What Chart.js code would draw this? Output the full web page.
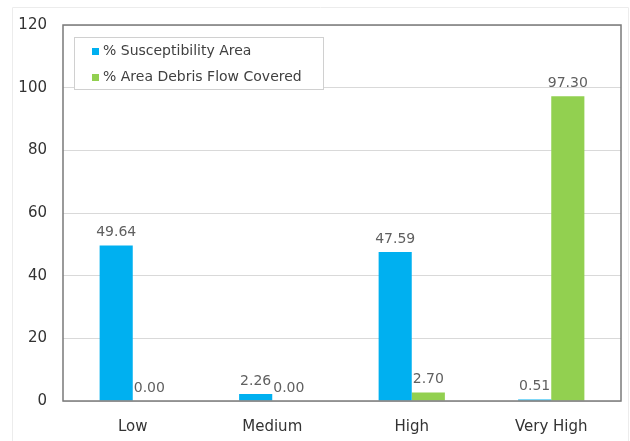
<!DOCTYPE html>
<html>
<head>
<meta charset="utf-8">
<script src="https://cdn.jsdelivr.net/npm/chart.js@4.4.1/dist/chart.umd.min.js"></script>
<style>
  html, body { margin: 0; padding: 0; background: #fff; }
  #wrap { width: 630px; height: 441px; position: relative; }
</style>
</head>
<body>
<div id="wrap"><canvas id="myChart" width="630" height="441"></canvas></div>
<script>
const categories = ['Low', 'Medium', 'High', 'Very High']
const susceptibilityArea = [49.64, 2.26, 47.59, 0.51]
const debrisFlowCovered = [0.00, 0.00, 2.70, 97.30]
const yTicks = [0, 20, 40, 60, 80, 100, 120]

const FONT = 'DejaVu Sans'

// legend box drawn inside the plot, top-left
const boxLegend = {
    id: 'boxLegend',
    afterDraw(chart) {
        const ctx = chart.ctx
        const x = 74, y = 37, w = 249, h = 52
        ctx.save()
        ctx.fillStyle = '#fff'
        ctx.fillRect(x, y, w, h)
        ctx.strokeStyle = '#d0d0d0'
        ctx.lineWidth = 1
        ctx.strokeRect(x + 0.5, y + 0.5, w, h)
        ctx.font = '14px ' + FONT
        ctx.textBaseline = 'middle'
        chart.data.datasets.forEach((ds, i) => {
            const cy = y + 14 + i * 26
            ctx.fillStyle = ds.backgroundColor
            ctx.fillRect(x + 18, cy - 3, 7, 7)
            ctx.fillStyle = '#404040'
            ctx.fillText(ds.label, x + 29, cy)
        })
        ctx.restore()
    }
}

// value labels above each bar + plot frame
const valueLabels = {
    id: 'valueLabels',
    afterDatasetsDraw(chart) {
        const ctx = chart.ctx
        const a = chart.chartArea
        ctx.save()
        ctx.strokeStyle = '#7a7a7a'
        ctx.lineWidth = 1.5
        ctx.strokeRect(a.left, a.top, a.right - a.left, a.bottom - a.top)
        ctx.font = '14px ' + FONT
        ctx.fillStyle = '#606060'
        ctx.textAlign = 'center'
        ctx.textBaseline = 'bottom'
        chart.data.datasets.forEach((ds, i) => {
            chart.getDatasetMeta(i).data.forEach((bar, j) => {
                ctx.fillText(ds.data[j].toFixed(2), bar.x, bar.y - 6)
            })
        })
        ctx.restore()
    },
    beforeDraw(chart) {
        const ctx = chart.ctx
        ctx.save()
        ctx.strokeStyle = '#ececec'
        ctx.lineWidth = 1
        ctx.beginPath()
        ctx.moveTo(12.5, 441)
        ctx.lineTo(12.5, 7.5)
        ctx.lineTo(628.5, 7.5)
        ctx.lineTo(628.5, 441)
        ctx.stroke()
        ctx.restore()
    }
}

const ctx = document.getElementById('myChart')
new Chart(ctx, {
    type: 'bar',
    data: {
        labels: categories,
        datasets: [{
            label: '% Susceptibility Area',
            data: susceptibilityArea,
            backgroundColor: '#00b0f0'
        }, {
            label: '% Area Debris Flow Covered',
            data: debrisFlowCovered,
            backgroundColor: '#92d050'
        }]
    },
    options: {
        responsive: false,
        animation: false,
        layout: { padding: { top: 25, right: 9, left: 0, bottom: 0 } },
        datasets: {
            bar: { categoryPercentage: 0.475, barPercentage: 1 }
        },
        plugins: {
            legend: { display: false },
            tooltip: { enabled: false }
        },
        scales: {
            x: {
                grid: { display: false },
                border: { display: false },
                ticks: { color: '#333', font: { family: FONT, size: 15 }, padding: 9 },
                afterFit: s => { s.height = 40 }
            },
            y: {
                min: 0,
                max: 120,
                afterBuildTicks: s => { s.ticks = yTicks.map(v => ({ value: v })) },
                grid: { color: '#d9d9d9', drawTicks: false },
                border: { display: false },
                ticks: { color: '#333', font: { family: FONT, size: 15 }, padding: 16 },
                afterFit: s => { s.width = 63 }
            }
        }
    },
    plugins: [valueLabels, boxLegend]
})
</script>
</body>
</html>
